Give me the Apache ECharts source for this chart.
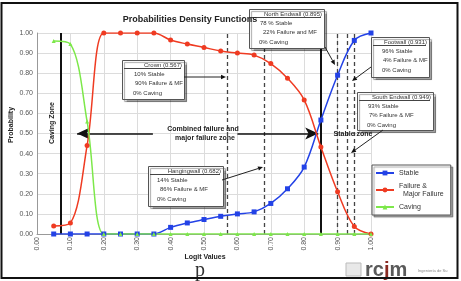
<!DOCTYPE html>
<html><head><meta charset="utf-8">
<script src="https://cdn.jsdelivr.net/npm/echarts@6/dist/echarts.min.js"></script>
<style>html,body{margin:0;padding:0;background:#fff}#c{width:461px;height:281px}</style>
</head><body><div id="c"></div>
<script>
// ---- data ----
const pValues = [0.05,0.10,0.15,0.20,0.25,0.30,0.35,0.40,0.45,0.50,0.55,0.60,0.65,0.70,0.75,0.80,0.85,0.90,0.95,1.00];
const stable  = [0,0,0,0,0,0,0,0.033,0.055,0.072,0.088,0.10,0.11,0.152,0.225,0.333,0.567,0.79,0.963,1.00];
const failure = [0.04,0.055,0.44,1.00,1.00,1.00,1.00,0.965,0.945,0.928,0.91,0.90,0.89,0.848,0.775,0.667,0.433,0.21,0.037,0.00];
const caving  = [0.96,0.945,0.56,0,0,0,0,0,0,0,0,0,0,0,0,0,0,0,0,0];
const zoneLines = [0.07, 0.85];              // solid boundaries
const paramLines = [0.567, 0.682, 0.895, 0.931, 0.949]; // dashed rock-mass positions
const seriesNames = ['Stable', 'Failure &\n  Major Failure', 'Caving'];
const notes = [
  {title:'Crown (0.567)', lines:['10% Stable','90% Failure & MF','0% Caving']},
  {title:'North Endwall (0.895)', lines:['78 % Stable','22% Failure and MF','0% Caving']},
  {title:'Footwall (0.931)', lines:['96% Stable','4% Failure & MF','0% Caving']},
  {title:'South Endwall (0.949)', lines:['93% Stable','7% Failure & MF','0% Caving']},
  {title:'Hangingwall (0.682)', lines:['14% Stable','86% Failure & MF','0% Caving']}
];

// ---- layout of annotation boxes (pixels) ----
const boxLayout = [
  {x:122,y:60,w:62,h:39, ind:[12,13,11], arrow:[184,77,226,77]},
  {x:249,y:9,w:75,h:39, ind:[11,14,10], arrow:[325,47,335,65]},
  {x:371,y:37,w:58,h:40, ind:[11,12,11], arrow:[371,67,352,81]},
  {x:357,y:92,w:76,h:38, ind:[11,12,10], arrow:[383,130,351,153]},
  {x:148,y:166,w:75,h:40, ind:[9,12,9], arrow:[222,180,263,167]}
];
const F = 'Liberation Sans, Arial, sans-serif';
const chart = echarts.init(document.getElementById('c'));
const graphics = [];
graphics.push({type:'rect', shape:{x:1.5,y:3,width:456,height:275}, style:{fill:'none',stroke:'#111',lineWidth:2}, z:100});
function arrow(x1,y1,x2,y2){
  const a=Math.atan2(y2-y1,x2-x1), L=5, W=2.2;
  const bx=x2-L*Math.cos(a), by=y2-L*Math.sin(a);
  graphics.push({type:'line', shape:{x1,y1,x2:bx,y2:by}, style:{stroke:'#222',lineWidth:1}, z:60});
  graphics.push({type:'polygon', shape:{points:[[x2,y2],[bx-W*Math.sin(a),by+W*Math.cos(a)],[bx+W*Math.sin(a),by-W*Math.cos(a)]]}, style:{fill:'#111'}, z:60});
}
notes.forEach((n,i)=>{
  const b=boxLayout[i];
  graphics.push({type:'rect', shape:{x:b.x+0.5,y:b.y+0.5,width:b.w,height:b.h},
    style:{fill:'#fff',stroke:'#555',lineWidth:1,shadowColor:'rgba(0,0,0,0.35)',shadowOffsetX:2,shadowOffsetY:2,shadowBlur:1}, z:50});
  graphics.push({type:'text', style:{text:n.title,x:b.x+b.w-2,y:b.y+5,align:'right',verticalAlign:'middle',font:'6px '+F,fill:'#333'}, z:51});
  graphics.push({type:'line', shape:{x1:b.x+2,y1:b.y+8.5,x2:b.x+b.w-3,y2:b.y+8.5}, style:{stroke:'#444',lineWidth:1}, z:51});
  n.lines.forEach((t,k)=>{
    graphics.push({type:'text', style:{text:t,x:b.x+b.ind[k],y:b.y+14+k*9.5,verticalAlign:'middle',font:'6px '+F,fill:'#333'}, z:51});
  });
  arrow(...b.arrow);
});
// zone labels
graphics.push({type:'text', rotation:Math.PI/2, x:52, y:123, style:{text:'Caving Zone',align:'center',verticalAlign:'middle',font:'bold 7px '+F,fill:'#222'}, z:55});
graphics.push({type:'text', style:{text:'Combined failure and',x:203,y:129,align:'center',verticalAlign:'middle',font:'bold 7px '+F,fill:'#222'}, z:55});
graphics.push({type:'text', style:{text:'major failure zone',x:205,y:138,align:'center',verticalAlign:'middle',font:'bold 7px '+F,fill:'#222'}, z:55});
graphics.push({type:'text', style:{text:'Stable zone',x:353,y:134,align:'center',verticalAlign:'middle',font:'bold 7px '+F,fill:'#222'}, z:55});
// axis captions
graphics.push({type:'text', style:{text:'Probabilities Density Functions',x:190,y:20,align:'center',verticalAlign:'middle',font:'bold 9px '+F,fill:'#222'}, z:55});
graphics.push({type:'text', rotation:Math.PI/2, x:11, y:125, style:{text:'Probability',align:'center',verticalAlign:'middle',font:'bold 7px '+F,fill:'#222'}, z:55});
graphics.push({type:'text', style:{text:'Logit Values',x:205,y:257,align:'center',verticalAlign:'middle',font:'bold 7px '+F,fill:'#222'}, z:55});
graphics.push({type:'text', style:{text:'p',x:200,y:271,align:'center',verticalAlign:'middle',font:'20px "Liberation Serif", serif',fill:'#333'}, z:55});
// logo
graphics.push({type:'rect', shape:{x:346,y:263,width:15,height:13}, style:{fill:'#e8e8e8',stroke:'#bbb',lineWidth:1}, z:55});
graphics.push({type:'text', style:{text:'{a|rc}{b|j}{a|m}',x:365,y:270,verticalAlign:'middle',rich:{a:{font:'bold 20px '+F,fill:'#5a5a5a'},b:{font:'bold 20px '+F,fill:'#8a2a22'}}}, z:55});
graphics.push({type:'text', style:{text:'Ingeniería de Su',x:418,y:271,verticalAlign:'middle',font:'4px '+F,fill:'#888'}, z:55});

const mk = (name,data,color,symbol,size)=>({
  name, type:'line', data: pValues.map((p,i)=>[p,data[i]]), smooth:0.35,
  symbol, symbolSize:size, lineStyle:{color,width:1.5}, itemStyle:{color}, z:10
});
const sStable = mk(seriesNames[0],stable,'#2342e6','rect',5);
const sFail = mk(seriesNames[1],failure,'#ef3b22','circle',5);
const sCave = mk(seriesNames[2],caving,'#7de84a','triangle',4);
sStable.markLine = {silent:true, symbol:'none', animation:false, label:{show:false},
  data: zoneLines.map(v=>({xAxis:v, lineStyle:{color:'#111',width:2,type:'solid'}}))
   .concat(paramLines.map(v=>({xAxis:v, lineStyle:{color:'#444',width:1.3,type:[4,3]}})))
   .concat([
     [{coord:[0.12,0.5],symbol:'arrow',symbolSize:[9,13]},{coord:[0.347,0.5],symbol:'none'}],
     [{coord:[0.60,0.5],symbol:'none'},{coord:[0.842,0.5],symbol:'arrow',symbolSize:[9,13]}]
   ].map(pair=>{pair[0].lineStyle={color:'#111',width:1.5,type:'solid'};return pair;}))
};

chart.setOption({
  animation:false,
  grid:{left:37,right:90,top:33,bottom:47},
  xAxis:{type:'value',min:0,max:1,interval:0.1,
    axisLine:{lineStyle:{color:'#999'}}, axisTick:{show:false},
    axisLabel:{rotate:90,fontSize:7,color:'#555',margin:3,fontFamily:F,formatter:v=>v.toFixed(2)},
    splitLine:{show:true,lineStyle:{color:'#dcdcdc'}}},
  yAxis:{type:'value',min:0,max:1,interval:0.1,
    axisLine:{show:true,lineStyle:{color:'#999'}}, axisTick:{show:false},
    axisLabel:{fontSize:7,color:'#555',margin:4,fontFamily:F,formatter:v=>v.toFixed(2)},
    splitLine:{show:true,lineStyle:{color:'#dcdcdc'}}},
  legend:{orient:'vertical',left:372,top:165,padding:[4,7,4,3],itemGap:5,itemWidth:18,itemHeight:6,
    borderColor:'#555',borderWidth:1,backgroundColor:'#fff',
    shadowColor:'rgba(0,0,0,0.35)',shadowOffsetX:2,shadowOffsetY:2,shadowBlur:1,
    textStyle:{fontSize:7,color:'#333',fontFamily:F,lineHeight:8},
    data:seriesNames},
  series:[sStable,sFail,sCave],
  graphic:graphics
});
</script></body></html>
